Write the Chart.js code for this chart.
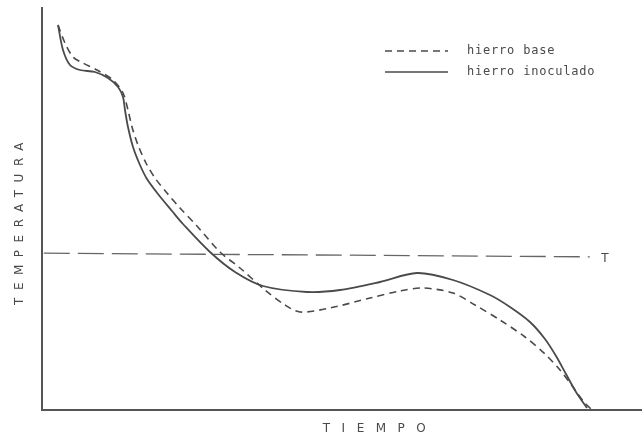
<!DOCTYPE html>
<html>
<head>
<meta charset="utf-8">
<script src="https://cdn.jsdelivr.net/npm/chart.js@4.4.1/dist/chart.umd.min.js"></script>
<style>
  html, body { margin: 0; padding: 0; background: #fff; }
  #wrap { width: 642px; height: 439px; position: relative; }
</style>
</head>
<body>
<div id="wrap"><canvas id="chart"></canvas></div>
<script>
// curves (time 0..100, temperature 0..100, arbitrary units)
const seriesNames = ['hierro base', 'hierro inoculado'];

const baseTime = [2.67, 3.83, 5.17, 6.83, 9.17, 11.83, 13.5, 14.33, 15, 16, 17.33, 18.83, 20.83, 23, 25.83, 29.67, 33, 37.17, 40.5, 43, 48, 54.67, 59.67, 63.5, 68.5, 72.17, 76.33, 80.5, 83.83, 86.33, 88.5, 90.33, 91.5];
const baseTemp = [96.25, 91.75, 88.25, 86.75, 85, 82.5, 79.25, 75, 70.75, 66.25, 61.75, 58, 54.25, 50.5, 46, 39.5, 35.5, 30, 26.25, 24.5, 25.5, 28, 29.75, 30.5, 29.25, 26.25, 22.5, 18.25, 14, 10, 5.75, 2, 0.25];

const inocTime = [2.67, 3.5, 4.67, 6.33, 8.83, 11, 12.67, 13.5, 13.83, 14.33, 15.17, 16.33, 17.5, 19.33, 21.67, 23.5, 28, 32.17, 36.83, 44.17, 49.67, 56.33, 62.5, 68.5, 74.67, 78, 81.33, 83.83, 85.67, 87.33, 89, 90.83];
const inocTemp = [96.25, 90, 86.25, 85, 84.5, 83, 80.75, 78.25, 75, 70.75, 65.75, 61.25, 57.75, 54, 49.75, 46.5, 39.5, 34.5, 31, 29.5, 30, 32, 34.25, 32.5, 28.75, 25.75, 22, 17.75, 13.5, 9, 4.5, 0.5];

const levelTime = [0.3, 91.3];
const levelTemp = [39.2, 38.3];
const levelName = 'T';

const axisTitles = ['TIEMPO', 'TEMPERATURA'];

function toPoints(xs, ys) {
  return xs.map((x, i) => ({ x: x, y: ys[i] }));
}

const ink = '#4a4a4a';

// legend + axis labels drawn by hand, the scan has letter-spaced lettering
const lettering = {
  id: 'lettering',
  afterDraw(chart) {
    const { ctx, scales } = chart;
    ctx.save();
    ctx.fillStyle = ink;
    ctx.strokeStyle = ink;
    ctx.textBaseline = 'middle';

    // legend
    const rows = [
      { y: 51, dash: [7, 5], label: seriesNames[0] },
      { y: 72, dash: [], label: seriesNames[1] },
    ];
    ctx.font = '12px "DejaVu Sans Mono"';
    ctx.letterSpacing = '0.8px';
    ctx.lineWidth = 1.6;
    rows.forEach((r) => {
      ctx.setLineDash(r.dash);
      ctx.beginPath();
      ctx.moveTo(385, r.y);
      ctx.lineTo(448, r.y);
      ctx.stroke();
      ctx.textAlign = 'left';
      ctx.fillText(r.label, 467, r.y);
    });
    ctx.setLineDash([]);

    // T mark at end of the dashed level line
    const tx = scales.x.getPixelForValue(levelTime[1]) + 15;
    const ty = scales.y.getPixelForValue(levelTemp[1]) + 2;
    ctx.font = '12px "DejaVu Sans"';
    ctx.letterSpacing = '0px';
    ctx.textAlign = 'center';
    ctx.fillText(levelName, tx, ty);

    // x title
    ctx.letterSpacing = '11.5px';
    ctx.fillText(axisTitles[0], 380, 429);

    // y title
    ctx.translate(20, 224);
    ctx.rotate(-Math.PI / 2);
    ctx.letterSpacing = '7.5px';
    ctx.fillText(axisTitles[1], 4, 0);
    ctx.restore();
  },
};

new Chart(document.getElementById('chart'), {
  type: 'scatter',
  data: {
    datasets: [
      {
        label: seriesNames[0],
        data: toPoints(baseTime, baseTemp),
        showLine: true,
        borderColor: ink,
        borderWidth: 1.6,
        borderDash: [7, 5],
        pointRadius: 0,
        tension: 0.3,
      },
      {
        label: seriesNames[1],
        data: toPoints(inocTime, inocTemp),
        showLine: true,
        borderColor: ink,
        borderWidth: 1.8,
        pointRadius: 0,
        tension: 0.3,
      },
      {
        label: levelName,
        data: toPoints(levelTime, levelTemp),
        showLine: true,
        borderColor: '#666',
        borderWidth: 1.3,
        borderDash: [26, 8],
        pointRadius: 0,
      },
    ],
  },
  options: {
    responsive: true,
    maintainAspectRatio: false,
    animation: false,
    layout: {
      padding: { left: 34, top: 8, right: 0, bottom: 21 },
    },
    plugins: {
      legend: { display: false },
      tooltip: { enabled: false },
    },
    scales: {
      x: {
        type: 'linear',
        min: 0,
        max: 100,
        grid: { display: false },
        ticks: { display: false },
        border: { display: true, color: '#555', width: 2 },
      },
      y: {
        type: 'linear',
        min: 0,
        max: 100.5,
        grid: { display: false },
        ticks: { display: false },
        border: { display: true, color: '#555', width: 2 },
      },
    },
  },
  plugins: [lettering],
});
</script>
</body>
</html>
